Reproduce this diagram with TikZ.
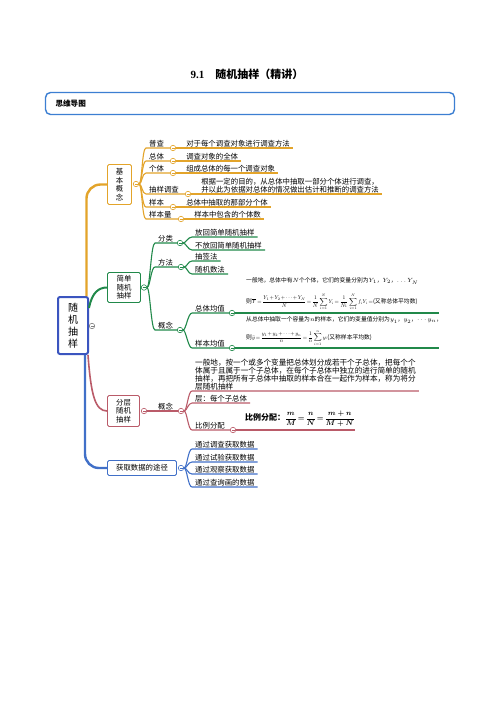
\documentclass[tikz,border=0pt]{standalone}
\usepackage{fontspec}
\usepackage{amsmath,bm,graphicx}
\setmainfont{Noto Sans CJK SC}
\newfontfamily\latinserif{Liberation Serif}
\usetikzlibrary{calc}

\definecolor{jOrange}{HTML}{E3A42A}
\definecolor{jGreen}{HTML}{21894A}
\definecolor{jRed}{HTML}{BA5B69}
\definecolor{jBlue}{HTML}{4170C8}
\definecolor{jRoot}{HTML}{3B55BF}
\definecolor{jHead}{HTML}{3C7FD2}

\newcommand{\tightmath}[1]{\scalebox{0.6}{\fontsize{9}{10}\selectfont\thickmuskip=3mu\medmuskip=2mu$\displaystyle #1$}}

\begin{document}
\begin{tikzpicture}[x=1pt, y=-1pt,
  txt/.style={font=\fontsize{7.4}{8}\selectfont, anchor=south west, inner xsep=3pt, inner ysep=1pt},
  note/.style={font=\fontsize{5.8}{7}\selectfont, anchor=west, inner sep=0pt},
  topic/.style={draw=#1, fill=white, rounded corners=1.5pt, line width=0.8pt, align=center,
                font=\fontsize{7.4}{8.5}\selectfont, inner sep=0pt},
  fold/.style={circle, draw=#1, fill=white, line width=0.6pt, minimum size=5.5pt, inner sep=0pt,
               path picture={\draw[#1, line width=0.5pt]
                 ([xshift=-1.5pt]path picture bounding box.center) --
                 ([xshift=1.5pt]path picture bounding box.center);}},
  link/.style={draw=#1, line width=1.1pt},
  trunk/.style={draw=#1, line width=2.4pt, rounded corners=14pt}
]
\fill[white] (0,0) rectangle (496,702);
\useasboundingbox (0,0) rectangle (496,702);

\node[font=\fontsize{11}{13}\selectfont\bfseries] (title) at (247,74) {{\latinserif 9.1}\quad 随机抽样（精讲）};
\node[draw=jHead, line width=1.4pt, rounded corners=5pt, minimum width=409pt, minimum height=22pt] (head) at (250,103.5) {};
\node[font=\fontsize{7.6}{8}\selectfont\bfseries, anchor=west] (headtxt) at (52,103.5) {思维导图};

\node[topic=jRoot, line width=2pt, rounded corners=2pt, minimum width=30pt, minimum height=57pt,
      font=\fontsize{10}{12}\selectfont] (root) at (73,325.5) {随\\机\\抽\\样};
\node[topic=jOrange, minimum width=24pt, minimum height=40pt] (k) at (119.5,184.5) {基\\本\\概\\念};
\node[topic=jGreen, minimum width=33pt, minimum height=30pt] (s) at (124,287.5) {简单\\随机\\抽样};
\node[topic=jRed, minimum width=32pt, minimum height=31pt] (c) at (123.5,411) {分层\\随机\\抽样};
\node[topic=jBlue, minimum width=69pt, minimum height=15pt] (d) at (142,468) {获取数据的途径};

\node[fold=gray] (f0) at (92,326) {};
\node[fold=jOrange] (fk) at (136,184) {};
\node[fold=jGreen] (fs) at (144,287.5) {};
\node[fold=jRed] (fc) at (144,411) {};
\node[fold=jBlue] (fd) at (181,468) {};

\draw[trunk=jOrange] ([xshift=-2.5pt]root.north east) |- (k.west);
\draw[jGreen, line width=2pt] ([yshift=-12pt]root.north east) .. controls +(3,-16) and +(-8,0) .. (s.west);
\draw[jRed, line width=1.6pt] ([xshift=-1pt]root.south east) .. controls +(3,40) and +(-12,0) .. (c.west);
\draw[trunk=jBlue] ([xshift=-4pt]root.south east) |- (d.west);

\foreach \i/\lab/\y/\cx/\txt in {
  1/普查/148/173/对于每个调查对象进行调查方法,
  2/总体/161/173/调查对象的全体,
  3/个体/173/173/组成总体的每一个调查对象,
  4/抽样调查/194/188/根据一定的目的，从总体中抽取一部分个体进行调查，\\并以此为依据对总体的情况做出估计和推断的调查方法,
  5/样本/207/173/总体中抽取的那部分个体,
  6/样本量/219/181/样本中包含的个体数}{
  \node[txt] (k\i) at (146,\y) {\lab};
  \node[fold=jOrange] (kf\i) at (\cx,\y) {};
  \node[txt, align=left] (kt\i) at ([xshift=7pt]kf\i.east) {\txt};
  \draw[link=jOrange] (fk.east) .. controls +(3,0) and +(-4,0) .. (k\i.south west) -- (kf\i.west);
  \draw[link=jOrange] (kf\i.east) -- (kt\i.south east);
}

\foreach \i/\lab/\y/\cx in {1/分类/243/180, 2/方法/267/181, 3/概念/330/180}{
  \node[txt] (s\i) at (155,\y) {\lab};
  \node[fold=jGreen] (sf\i) at (\cx,\y) {};
  \draw[link=jGreen] (fs.east) .. controls +(3,0) and +(-4,0) .. (s\i.south west) -- (sf\i.west);
}
\foreach \p/\j/\lab/\y in {1/1/放回简单随机抽样/237, 1/2/不放回简单随机抽样/250, 2/1/抽签法/261, 2/2/随机数法/274}{
  \node[txt] (s\p\j) at (192,\y) {\lab};
  \draw[link=jGreen] (sf\p.east) .. controls +(3,0) and +(-4,0) .. (s\p\j.south west) -- (s\p\j.south east);
}
\foreach \j/\lab/\y in {1/总体均值/313, 2/样本均值/348}{
  \node[txt] (s3\j) at (192,\y) {\lab};
  \node[fold=jGreen] (sf3\j) at (232,\y) {};
  \coordinate (se3\j) at (439,\y);
  \draw[link=jGreen] (sf3.east) .. controls +(3,0) and +(-4,0) .. (s3\j.south west) -- (sf3\j.west);
  \draw[link=jGreen] (sf3\j.east) -- (se3\j);
}
\node[note] (zt1) at (246,281) {一般地，总体中有$N$个个体，它们的变量分别为$Y_1$，$Y_2$，$\ldots Y_N$};
\node[note] (zt2) at (246,302) {则\tightmath{\overline{Y}=\frac{Y_1+Y_2+\cdots+Y_N}{N}=\frac{1}{N}\sum_{i=1}^{N}Y_i=\frac{1}{N_1}\sum_{i=1}^{N}f_iY_i=}(又称总体平均数)};
\node[note] (yt1) at (246,320) {从总体中抽取一个容量为$n$的样本，它们的变量值分别为$y_1$，$y_2$，$\cdots y_n$，};
\node[note] (yt2) at (246,338) {则\tightmath{\bar{y}=\frac{y_1+y_2+\cdots+y_n}{n}=\frac{1}{n}\sum_{i=1}^{n}y_i}(又称样本平均数)};

\node[txt] (c1) at (155,411) {概念};
\node[fold=jRed] (cf1) at (181,411) {};
\draw[link=jRed] (fc.east) -- (c1.south west) -- (cf1.west);
\node[txt, align=left, font=\fontsize{7.6}{7.8}\selectfont] (c11) at (192,391)
  {一般地，按一个或多个变量把总体划分成若干个子总体，把每个个\\体属于且属于一个子总体，在每个子总体中独立的进行简单的随机\\抽样，再把所有子总体中抽取的样本合在一起作为样本，称为将分\\层随机抽样};
\node[txt] (c12) at (192,403) {层：每个子总体};
\node[txt] (c13) at (192,430) {比例分配};
\node[fold=jRed] (cf13) at (233,430) {};
\coordinate (ce13) at (355,430);
\foreach \j in {11,12} \draw[link=jRed] (cf1.east) .. controls +(3,0) and +(-4,0) .. (c\j.south west) -- (c\j.south east);
\draw[link=jRed] (cf1.east) .. controls +(3,0) and +(-4,0) .. (c13.south west) -- (cf13.west);
\draw[link=jRed] (cf13.east) -- (ce13);
\node[anchor=west, inner sep=0pt, font=\fontsize{8}{10}\selectfont\bfseries] (ratio) at (245,419)
  {比例分配：\scalebox{0.88}{$\thickmuskip=3mu\bm{\dfrac{m}{M}=\dfrac{n}{N}=\dfrac{m+n}{M+N}}$}};

\foreach \j/\lab/\y in {1/通过调查获取数据/449, 2/通过试验获取数据/462, 3/通过观察获取数据/474, 4/通过查询画的数据/487}{
  \node[txt] (d\j) at (192,\y) {\lab};
  \draw[link=jBlue] (fd.east) .. controls +(3,0) and +(-4,0) .. (d\j.south west) -- (d\j.south east);
}
\end{tikzpicture}
\end{document}
